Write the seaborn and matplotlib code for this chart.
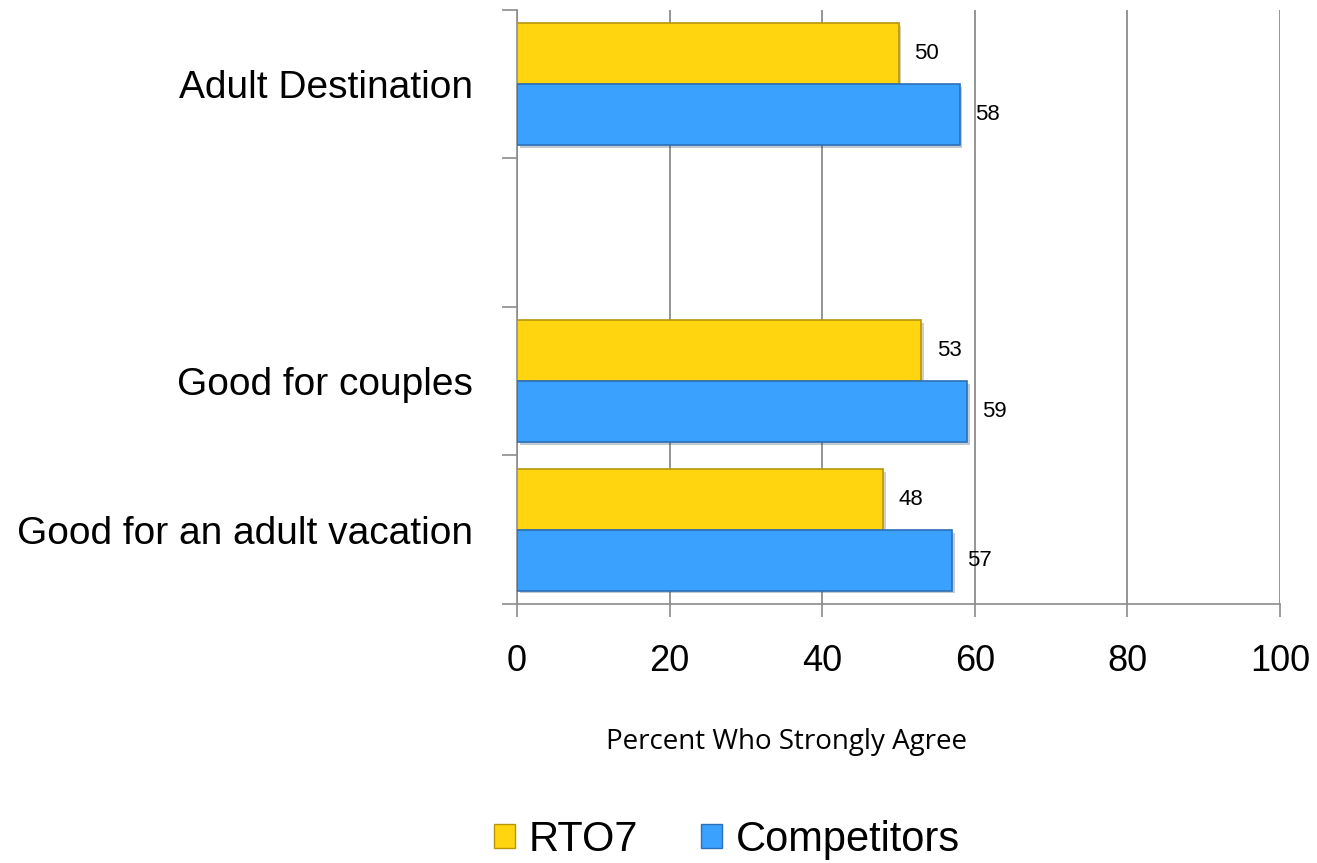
import matplotlib
matplotlib.use("Agg")
import pandas as pd
import matplotlib.pyplot as plt
import matplotlib.patheffects as pe
import seaborn as sns
from matplotlib.patches import Patch

# data (blank slot between the first two groups)
categories = ["Adult Destination", "", "Good for couples", "Good for an adult vacation"]
series = ["RTO7", "Competitors"]
rto7 = [50, None, 53, 48]
competitors = [58, None, 59, 57]
xticks = [0, 20, 40, 60, 80, 100]
xlabel = "Percent Who Strongly Agree"

colors = {"RTO7": "#FFD510", "Competitors": "#3BA1FF"}
edges = {"RTO7": "#B8960A", "Competitors": "#2B6FB8"}
grid_c = "#8c8c8c"

rows = []
for cat, a, b in zip(categories, rto7, competitors):
    if a is not None:
        rows.append({"category": cat, "series": "RTO7", "value": a})
    if b is not None:
        rows.append({"category": cat, "series": "Competitors", "value": b})
df = pd.DataFrame(rows)

sns.set_style("white")
plt.rcParams["font.family"] = ["Liberation Sans", "DejaVu Sans"]
plt.rcParams["text.color"] = "black"
plt.rcParams["xtick.labelcolor"] = "black"
plt.rcParams["ytick.labelcolor"] = "black"

fig = plt.figure(figsize=(13.17, 8.63), dpi=100)
ax = fig.add_axes([517 / 1317, 1 - 604 / 863, 763 / 1317, 594 / 863])

sns.barplot(data=df, y="category", x="value", hue="series", order=categories,
            hue_order=series, palette=colors, saturation=1, width=0.82,
            orient="h", legend=False, ax=ax, zorder=3)

# soft drop shadow like the bevelled office bars
shadow = [pe.SimplePatchShadow(offset=(2, -2), alpha=0.25), pe.Normal()]
for cont, s in zip(ax.containers, series):
    for bar in cont:
        bar.set_edgecolor(edges[s])
        bar.set_linewidth(1.2)
        bar.set_path_effects(shadow)
    ax.bar_label(cont, fmt="%.0f", padding=11, fontsize=16)

ax.set_xlim(0, 100)
ax.set_ylim(3.5, -0.5)
ax.set_xticks(xticks)
ax.set_xticklabels([str(t) for t in xticks], fontsize=26)
ax.set_yticks(range(len(categories)))
ax.set_yticklabels(categories, fontsize=28)
ax.set_yticks([i - 0.5 for i in range(len(categories) + 1)], minor=True)
ax.tick_params(axis="y", which="major", left=True, length=0, pad=32)
ax.tick_params(axis="y", which="minor", left=True, length=11, color=grid_c, width=1.2)
ax.tick_params(axis="x", bottom=True, length=9, color=grid_c, width=1.2, pad=20)
ax.set_xlabel("")
ax.set_ylabel("")

ax.xaxis.grid(True, color=grid_c, linewidth=1.3, zorder=0)
ax.set_axisbelow(True)
sns.despine(ax=ax, top=True, right=True)
for sp in ["left", "bottom"]:
    ax.spines[sp].set_color(grid_c)
    ax.spines[sp].set_linewidth(1.2)

fig.text(786 / 1317, 1 - 742 / 863, xlabel, ha="center", va="center",
         fontsize=20, family=["Open Sans", "DejaVu Sans"])

handles = [Patch(facecolor=colors[s], edgecolor=edges[s], label=s) for s in series]
fig.legend(handles=handles, loc="center", bbox_to_anchor=(727 / 1317, 1 - 840 / 863),
           ncol=2, frameon=False, fontsize=30, handlelength=0.5, handleheight=0.5,
           handletextpad=0.33, columnspacing=1.5)

fig.savefig("out.png", dpi=100)
